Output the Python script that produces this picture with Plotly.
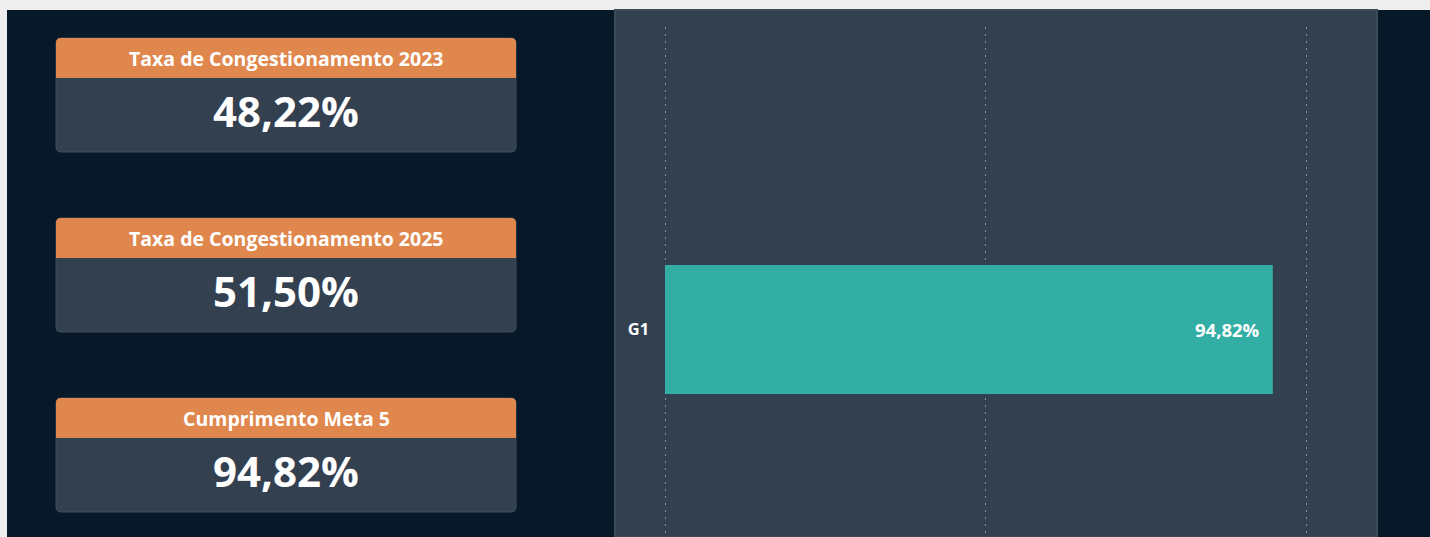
import plotly.graph_objects as go

# KPI cards
card_titles = ["Taxa de Congestionamento 2023", "Taxa de Congestionamento 2025", "Cumprimento Meta 5"]
card_values = [48.22, 51.50, 94.82]

# Bar chart
bar_categories = ["G1"]
bar_values = [94.82]

W, H = 1430, 537
BG = "#071828"
PANEL = "#334050"
ORANGE = "#E0874E"
TEAL = "#33AEA5"
FONT = "Segoe UI, Open Sans, sans-serif"


def fmt(v):
    return f"{v:.2f}".replace(".", ",") + "%"


def px(x):
    return x / W


def py(y):
    return 1 - y / H


def rounded_path(x0, y0, x1, y1, r, top=True, bottom=True):
    rx, ry = r / W, r / H
    X0, X1 = px(x0), px(x1)
    Y0, Y1 = py(y0), py(y1)  # Y0 is top in paper coords
    p = []
    if top:
        p.append(f"M {X0} {Y0 - ry}")
        p.append(f"Q {X0} {Y0} {X0 + rx} {Y0}")
        p.append(f"L {X1 - rx} {Y0}")
        p.append(f"Q {X1} {Y0} {X1} {Y0 - ry}")
    else:
        p.append(f"M {X0} {Y0}")
        p.append(f"L {X1} {Y0}")
    if bottom:
        p.append(f"L {X1} {Y1 + ry}")
        p.append(f"Q {X1} {Y1} {X1 - rx} {Y1}")
        p.append(f"L {X0 + rx} {Y1}")
        p.append(f"Q {X0} {Y1} {X0} {Y1 + ry}")
    else:
        p.append(f"L {X1} {Y1}")
        p.append(f"L {X0} {Y1}")
    p.append("Z")
    return " ".join(p)


shapes = []
annotations = []

# outer frame strips
shapes.append(dict(type="rect", xref="paper", yref="paper", x0=0, x1=1, y0=py(10), y1=1,
                   fillcolor="#EEEEEE", line_width=0, layer="below"))
shapes.append(dict(type="rect", xref="paper", yref="paper", x0=0, x1=px(7), y0=0, y1=1,
                   fillcolor="#EEEEEE", line_width=0, layer="below"))

# chart panel
shapes.append(dict(type="rect", xref="paper", yref="paper", x0=px(615), x1=px(1377), y0=0, y1=py(10),
                   fillcolor=PANEL, line=dict(color="#3C4959", width=2), layer="below"))

# cards
card_tops = [38, 218, 398]
for title, val, top in zip(card_titles, card_values, card_tops):
    x0, x1 = 56, 516
    hdr_bottom = top + 40
    bottom = top + 114
    shapes.append(dict(type="path", xref="paper", yref="paper",
                       path=rounded_path(x0, top, x1, bottom, 5),
                       fillcolor=PANEL, line=dict(color="#3F4D5E", width=1), layer="below"))
    shapes.append(dict(type="path", xref="paper", yref="paper",
                       path=rounded_path(x0, top, x1, hdr_bottom, 5, bottom=False),
                       fillcolor=ORANGE, line_width=0, layer="below"))
    annotations.append(dict(xref="paper", yref="paper", x=px((x0 + x1) / 2), y=py((top + hdr_bottom) / 2),
                            text=f"<b>{title}</b>", showarrow=False, xanchor="center", yanchor="middle",
                            font=dict(family=FONT, size=19.5, color="white")))
    annotations.append(dict(xref="paper", yref="paper", x=px((x0 + x1) / 2), y=py(top + 72),
                            text=f"<b>{fmt(val)}</b>", showarrow=False, xanchor="center", yanchor="middle",
                            font=dict(family=FONT, size=42, color="white")))

fig = go.Figure()
fig.add_trace(go.Bar(
    x=bar_values, y=bar_categories, orientation="h",
    marker=dict(color=TEAL, line_width=0),
    hoverinfo="skip",
))

# value label inside the bar end
for cat, v in zip(bar_categories, bar_values):
    annotations.append(dict(x=v, y=cat, xref="x", yref="y", text=f"<b>{fmt(v)}</b>",
                            showarrow=False, xanchor="right", yanchor="middle", xshift=-11,
                            font=dict(family=FONT, size=18.5, color="white")))

unit = 6.41  # px per percentage point
x_lo, x_hi = -2, 110
plot_left = 665 + x_lo * unit
plot_right = 665 + x_hi * unit

bar_px = 258  # px per category unit
center = 329.5

fig.update_layout(
    width=W, height=H,
    margin=dict(l=0, r=0, t=0, b=0),
    paper_bgcolor=BG,
    plot_bgcolor="rgba(0,0,0,0)",
    showlegend=False,
    bargap=0.5,
    shapes=shapes,
    annotations=annotations,
    xaxis=dict(
        domain=[plot_left / W, plot_right / W],
        range=[x_lo, x_hi],
        dtick=50, tick0=0,
        showticklabels=False,
        showgrid=True, gridcolor="#8590A0", gridwidth=1, griddash="2px,5px",
        zeroline=False, showline=False, fixedrange=True,
    ),
    yaxis=dict(
        domain=[0, (H - 27) / H],
        range=[-(H - center) / bar_px, (center - 27) / bar_px],
        showgrid=False, zeroline=False, showline=False,
        ticks="", ticklabelstandoff=2,
        tickfont=dict(family=FONT, size=16.5, color="white"),
        automargin=False, fixedrange=True,
    ),
    font=dict(family=FONT),
)
fig.update_yaxes(tickprefix="<b>", ticksuffix="</b>")

fig.write_html("out.html")
